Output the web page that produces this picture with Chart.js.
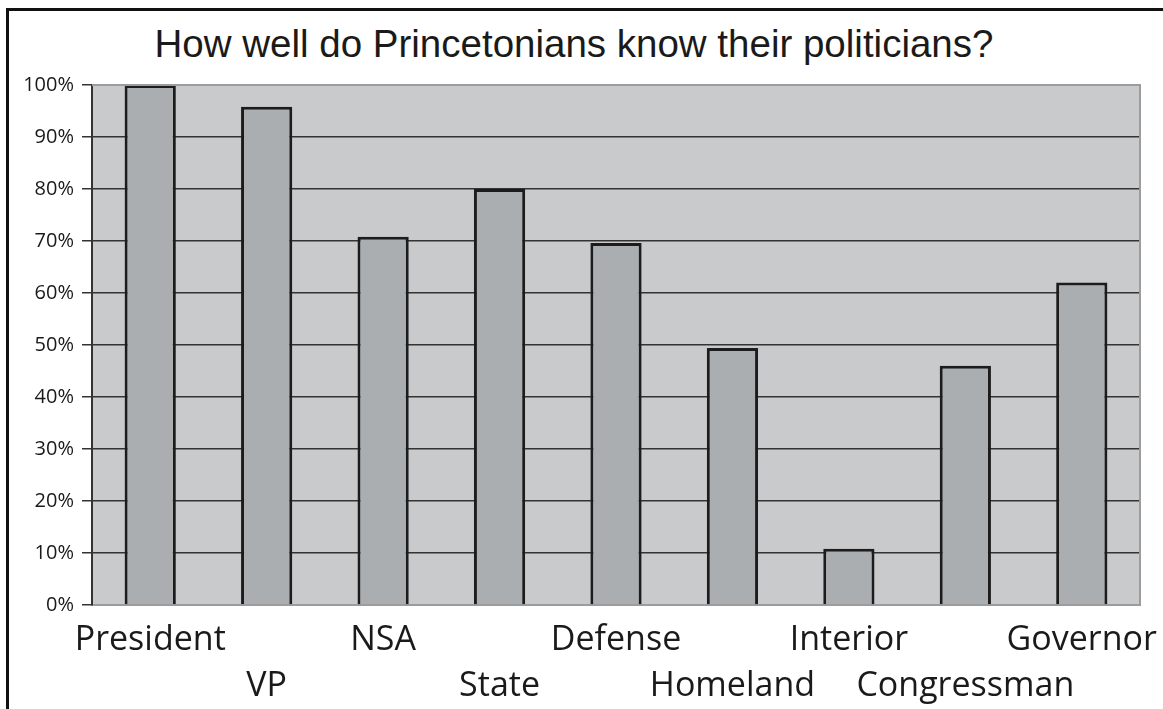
<!DOCTYPE html>
<html>
<head>
<meta charset="utf-8">
<script src="https://cdn.jsdelivr.net/npm/chart.js@4.4.1/dist/chart.umd.min.js"></script>
<style>
  html, body { margin:0; padding:0; background:#fff; overflow:hidden; }
  #frame { position:absolute; left:6px; top:8px; width:1160px; height:704px;
           border-left:3px solid #111; border-top:3px solid #111; }
  #title { position:absolute; left:0; top:25px; width:1148px; text-align:center;
           font-family:"Liberation Sans", Arial, sans-serif; font-size:38.5px;
           line-height:1; color:#1a1a1a; }
  #wrap { position:absolute; left:9px; top:11px; width:1154px; height:698px; }
</style>
</head>
<body>
<div id="frame"></div>
<div id="title">How well do Princetonians know their politicians?</div>
<div id="wrap"><canvas id="chart" width="1154" height="698"></canvas></div>
<script>
// data
const categories = ["President", "VP", "NSA", "State", "Defense", "Homeland", "Interior", "Congressman", "Governor"];
const percentCorrect = [100, 95.8, 70.8, 80, 69.6, 49.4, 10.8, 46, 62];
const yTicks = [0, 10, 20, 30, 40, 50, 60, 70, 80, 90, 100];

// plot area background + light frame
const plotBg = {
  id: 'plotBg',
  beforeDraw(chart){
    const {ctx, chartArea:a} = chart;
    ctx.save();
    ctx.fillStyle = '#c9cacc';
    ctx.fillRect(a.left, a.top, a.right - a.left, a.bottom - a.top);
    ctx.restore();
  },
  afterDatasetsDraw(chart){
    const {ctx, chartArea:a} = chart;
    ctx.save();
    ctx.strokeStyle = '#9b9c9e';
    ctx.lineWidth = 2;
    ctx.beginPath();
    ctx.moveTo(a.left, a.top);
    ctx.lineTo(a.right, a.top);
    ctx.lineTo(a.right, a.bottom);
    ctx.stroke();
    ctx.restore();
  }
};

new Chart(document.getElementById('chart'), {
  type: 'bar',
  data: {
    labels: categories,
    datasets: [{
      data: percentCorrect,
      backgroundColor: '#abaeb0',
      borderColor: '#1c1c1c',
      borderWidth: 3,
      barPercentage: 0.44,
      categoryPercentage: 1
    }]
  },
  options: {
    responsive: false,
    animation: false,
    layout: { padding: { top: 74, right: 23, left: 0, bottom: 0 } },
    plugins: { legend: { display: false }, tooltip: { enabled: false } },
    scales: {
      x: {
        grid: { display: false },
        border: { display: true, color: '#9b9c9e', width: 2 },
        ticks: {
          maxRotation: 0, autoSkip: false, padding: 4,
          color: '#1a1a1a',
          font: { family: 'Open Sans', size: 34, lineHeight: 1.35 },
          callback: function(v, i){
            const name = categories[i];
            return i % 2 === 0 ? [name, ''] : ['', name];
          }
        },
        afterFit(scale){ scale.height = 104; }
      },
      y: {
        min: 0, max: 100,
        afterBuildTicks(scale){ scale.ticks = yTicks.map(v => ({ value: v })); },
        grid: { color: '#333', lineWidth: 1.5, tickLength: 10, tickColor: '#333' },
        border: { color: '#333', width: 2 },
        ticks: {
          padding: 8, color: '#1a1a1a',
          font: { family: 'Open Sans', size: 20 },
          callback: v => v + '%'
        },
        afterFit(scale){ scale.width = 83; }
      }
    }
  },
  plugins: [plotBg]
});
</script>
</body>
</html>
